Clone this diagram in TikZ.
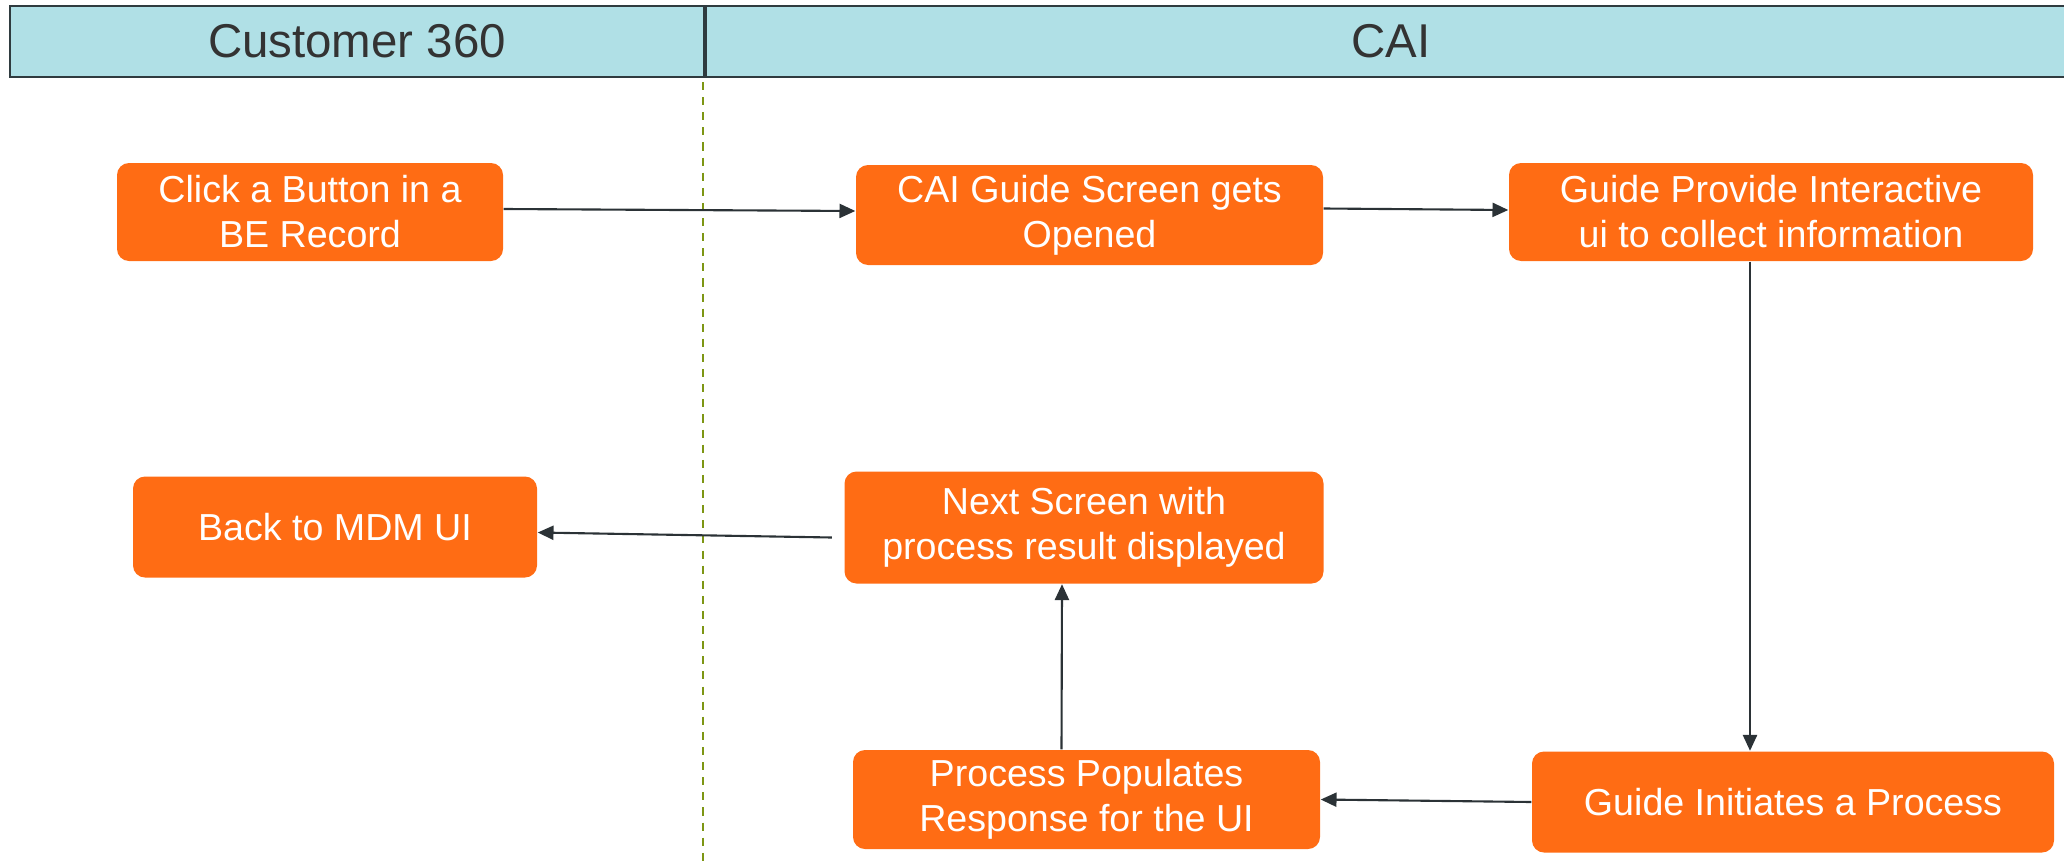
\documentclass[tikz,border=0pt]{standalone}
\usepackage{fontspec}
\setmainfont{Liberation Sans}
\usetikzlibrary{arrows.meta}
\definecolor{laneblue}{RGB}{176,224,230}
\definecolor{laneline}{RGB}{47,59,63}
\definecolor{steporange}{RGB}{255,108,20}
\definecolor{arrowgray}{RGB}{43,50,54}
\definecolor{divolive}{RGB}{125,150,20}
\tikzset{>={Triangle[length=4.5pt,width=4pt]}}
\tikzset{lane/.style={draw=laneline, line width=0.6pt, fill=laneblue, text=black!80, font=\fontsize{13.5}{16}\selectfont, minimum height=0.71cm, anchor=north west, inner sep=0pt},
stepbox/.style={fill=steporange, text=white, rounded corners=0.12cm, align=center, font=\fontsize{10.7}{12.8}\selectfont, inner sep=0pt},
flow/.style={->, draw=arrowgray, line width=0.6pt}}

\begin{document}
\begin{tikzpicture}
\useasboundingbox (0,0) rectangle (20.64,-8.66);
\node[lane, minimum width=6.94cm] (C360) at (0.09,-0.05) {Customer 360};
\node[lane, minimum width=13.7cm] (CAI) at (C360.north east) {CAI};
\coordinate (T) at (7.03,-0.82);
\coordinate (B) at (7.03,-8.66);
\draw[divolive, line width=0.4pt, dash pattern=on 2.3pt off 2pt] (T) -- (B);
\node[stepbox, minimum width=3.86cm, minimum height=0.98cm] (Click) at (3.10,-2.12) {Click a Button in a\\BE Record};
\node[stepbox, minimum width=4.67cm, minimum height=1.00cm] (Open) at (10.895,-2.15) {CAI Guide Screen gets\\Opened};
\node[stepbox, minimum width=5.24cm, minimum height=0.98cm] (Collect) at (17.71,-2.12) {Guide Provide Interactive\\ui to collect information};
\node[stepbox, minimum width=4.04cm, minimum height=1.01cm] (Back) at (3.35,-5.27) {Back to MDM UI};
\node[stepbox, minimum width=4.79cm, minimum height=1.12cm] (Next) at (10.84,-5.275) {Next Screen with\\process result displayed};
\node[stepbox, minimum width=4.67cm, minimum height=0.99cm] (Populate) at (10.865,-7.995) {Process Populates\\Response for the UI};
\node[stepbox, minimum width=5.22cm, minimum height=1.01cm] (Initiate) at (17.93,-8.02) {Guide Initiates a Process};
\draw[flow] ([yshift=0.03cm]Click.east) -- ([yshift=0.04cm]Open.west);
\draw[flow] ([yshift=0.065cm]Open.east) -- ([yshift=0.02cm]Collect.west);
\draw[flow] ([xshift=-0.21cm]Collect.south) -- ([xshift=-0.43cm]Initiate.north);
\draw[flow] (Initiate.west) -- (Populate.east);
\draw[flow] ([xshift=-0.25cm]Populate.north) -- ([xshift=-0.22cm]Next.south);
\draw[flow] ([xshift=-0.12cm,yshift=-0.1cm]Next.west) -- ([yshift=-0.055cm]Back.east);
\end{tikzpicture}
\end{document}
